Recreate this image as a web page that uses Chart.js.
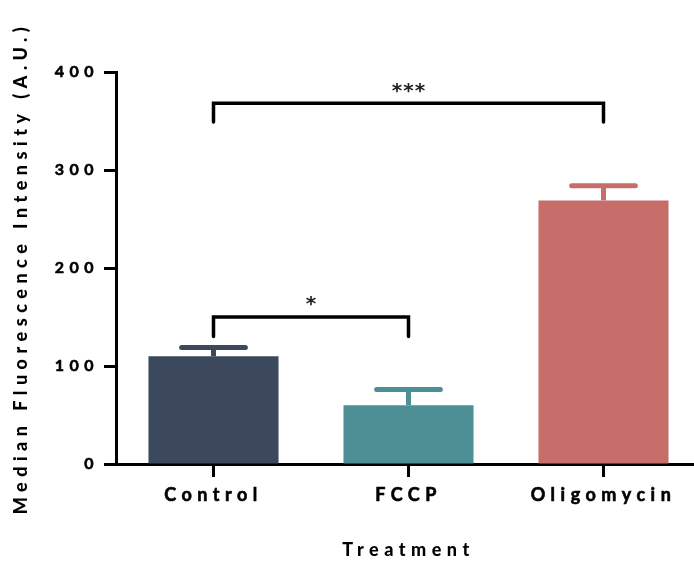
<!DOCTYPE html>
<html>
<head>
<meta charset="utf-8">
<script src="https://cdn.jsdelivr.net/npm/chart.js@4"></script>
<style>
  html, body { margin: 0; padding: 0; background: #fff; overflow: hidden; }
  #wrap { width: 694px; height: 561px; overflow: hidden; }
</style>
</head>
<body>
<div id="wrap"><canvas id="fluoChart" width="702" height="561"></canvas></div>
<script>
// Data
const categories = ['Control', 'FCCP', 'Oligomycin'];
const medianValues = [110, 60, 269];
const semValues = [9, 16, 15];
const barColors = ['#3c495c', '#4e8f96', '#c76e6b'];

// Significance comparisons: [from, to, label]
const comparisons = [[0, 2, '***'], [0, 1, '*']];
const bracketLevels = [368, 150];   // value of horizontal line
const bracketDrops = [349, 130];    // value where the legs end

const FONT = 'Lato, "Open Sans", sans-serif';

// Wider letter spacing like the original typesetting
const spacingPlugin = {
    id: 'spacing',
    beforeDraw(chart) {
        chart.ctx.letterSpacing = '5.5px';
    }
};

// Error bars (upper only) and significance brackets
const annotationPlugin = {
    id: 'annotations',
    afterDatasetsDraw(chart) {
        const ctx = chart.ctx;
        const x = chart.scales.x;
        const y = chart.scales.y;
        const meta = chart.getDatasetMeta(0);

        ctx.save();
        meta.data.forEach((bar, i) => {
            const top = y.getPixelForValue(medianValues[i]);
            const cap = y.getPixelForValue(medianValues[i] + semValues[i]);
            const half = bar.width * 0.245;
            ctx.strokeStyle = barColors[i];
            ctx.lineWidth = 5;
            ctx.lineCap = 'butt';
            ctx.beginPath();
            ctx.moveTo(bar.x, top);
            ctx.lineTo(bar.x, cap);
            ctx.stroke();
            ctx.lineCap = 'round';
            ctx.beginPath();
            ctx.moveTo(bar.x - half, cap);
            ctx.lineTo(bar.x + half, cap);
            ctx.stroke();
        });

        comparisons.forEach(([a, b, label], k) => {
            const x1 = x.getPixelForValue(a);
            const x2 = x.getPixelForValue(b);
            const yl = y.getPixelForValue(bracketLevels[k]);
            const yd = y.getPixelForValue(bracketDrops[k]);
            ctx.strokeStyle = '#000';
            ctx.lineWidth = 3.5;
            ctx.lineCap = 'round';
            ctx.lineJoin = 'miter';
            ctx.beginPath();
            ctx.moveTo(x1, yd);
            ctx.lineTo(x1, yl);
            ctx.lineTo(x2, yl);
            ctx.lineTo(x2, yd);
            ctx.stroke();

            ctx.fillStyle = '#222';
            ctx.font = 'bold 20px "DejaVu Sans", sans-serif';
            ctx.letterSpacing = '1px';
            ctx.textAlign = 'center';
            ctx.textBaseline = 'middle';
            ctx.fillText(label, (x1 + x2) / 2 + 0.5, yl - 12);
        });
        ctx.restore();
    }
};

const ctx = document.getElementById('fluoChart').getContext('2d');

new Chart(ctx, {
    type: 'bar',
    data: {
        labels: categories,
        datasets: [{
            data: medianValues,
            backgroundColor: barColors,
            borderWidth: 0,
            barPercentage: 0.667,
            categoryPercentage: 1
        }]
    },
    options: {
        responsive: false,
        animation: false,
        layout: {
            padding: { top: 72, right: 1, left: 0, bottom: 0 }
        },
        plugins: {
            legend: { display: false },
            tooltip: { enabled: false }
        },
        scales: {
            x: {
                offset: true,
                afterFit(scale) { scale.height = 97; },
                grid: {
                    offset: false,
                    drawOnChartArea: false,
                    drawTicks: true,
                    tickLength: 13,
                    tickWidth: 3,
                    color: '#000'
                },
                border: { display: true, color: '#000', width: 3 },
                ticks: {
                    color: '#000',
                    padding: 7,
                    maxRotation: 0,
                    autoSkip: false,
                    textStrokeColor: '#000',
                    textStrokeWidth: 0.6,
                    font: { family: FONT, size: 18, weight: 'bold' }
                },
                title: {
                    display: true,
                    text: 'Treatment',
                    color: '#000',
                    padding: { top: 0, bottom: 0 },
                    font: { family: FONT, size: 18, weight: 900 }
                }
            },
            y: {
                min: 0,
                max: 400,
                afterFit(scale) { scale.width = 116; },
                grid: {
                    drawOnChartArea: false,
                    drawTicks: true,
                    tickLength: 12,
                    tickWidth: 3,
                    color: '#000'
                },
                border: { display: true, color: '#000', width: 3 },
                ticks: {
                    stepSize: 100,
                    color: '#000',
                    padding: 5,
                    textStrokeColor: '#000',
                    textStrokeWidth: 0.6,
                    font: { family: FONT, size: 16, weight: 'bold' }
                },
                title: {
                    display: true,
                    text: 'Median Fluorescence Intensity (A.U.)',
                    color: '#000',
                    padding: { top: 10, bottom: 0 },
                    font: { family: FONT, size: 18, weight: 900 }
                }
            }
        }
    },
    plugins: [spacingPlugin, annotationPlugin]
});
</script>
</body>
</html>
